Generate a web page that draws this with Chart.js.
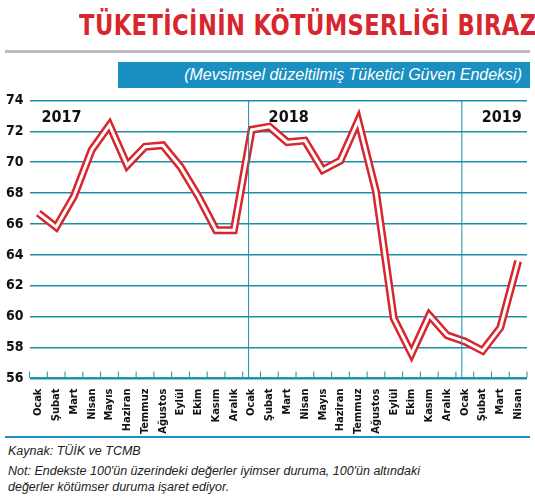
<!DOCTYPE html>
<html><head><meta charset="utf-8">
<script src="https://cdn.jsdelivr.net/npm/chart.js@4"></script>
<style>
body{margin:0;width:535px;height:503px;background:#fff;font-family:"DejaVu Sans",sans-serif;overflow:hidden;position:relative}
#t{position:absolute;left:0;width:535px;top:8px;text-align:center;white-space:nowrap}
#t span{display:inline-block;transform:scaleX(0.78);transform-origin:center;color:#d7262e;font:bold 29px "DejaVu Sans",sans-serif;letter-spacing:0.5px}
#hr{position:absolute;left:5px;right:5px;top:50px;height:3px;background:#bbb}
#s{position:absolute;left:118px;right:5px;top:62px;height:26px;background:#1a8fc1;color:#fff;font:italic 16px "Liberation Sans",sans-serif;line-height:26px;text-align:right;padding-right:8px;box-sizing:border-box}
#c{position:absolute;left:0;top:86px;width:535px;height:350px}
#hr2{position:absolute;left:5px;right:5px;top:436px;height:2px;background:#1a8fc1}
#f{position:absolute;left:8px;top:443px;font:italic 12.5px "Liberation Sans",sans-serif;color:#222;line-height:16px;width:520px}
</style></head><body>
<div id="t"><span>TÜKETİCİNİN KÖTÜMSERLİĞİ BIRAZ AZALDI</span></div>
<div id="hr"></div>
<div id="s">(Mevsimsel düzeltilmiş Tüketici Güven Endeksi)</div>
<div id="c"><canvas id="cv" width="535" height="350"></canvas></div>
<div id="hr2"></div>
<div id="f">Kaynak: TÜİK ve TCMB<div style="height:4px"></div>Not: Endekste 100'ün üzerindeki değerler iyimser duruma, 100'ün altındaki<br>değerler kötümser duruma işaret ediyor.</div>
<script>
const months=["Ocak","Şubat","Mart","Nisan","Mayıs","Haziran","Temmuz","Ağustos","Eylül","Ekim","Kasım","Aralık","Ocak","Şubat","Mart","Nisan","Mayıs","Haziran","Temmuz","Ağustos","Eylül","Ekim","Kasım","Aralık","Ocak","Şubat","Mart","Nisan"];
const values=[66.7,65.8,67.8,70.8,72.4,69.8,71.0,71.1,69.7,67.8,65.6,65.6,72.1,72.3,71.3,71.4,69.5,70.1,72.7,68.1,59.9,57.6,60.1,58.8,58.4,57.8,59.3,63.6];
const years=["2017","2018","2019"];
const yearStart=[0,12,24];
const teal="#1a8fa8";
const deco={id:'deco',afterDraw(ch){const c=ch.ctx,x=ch.scales.x,a=ch.chartArea;c.save();
c.strokeStyle=teal;c.lineWidth=1;c.font='bold 16px "DejaVu Sans Condensed","DejaVu Sans",sans-serif';c.fillStyle='#111';
years.forEach((y,i)=>{const px=i?x.getPixelForValue(yearStart[i])-3:a.left;if(i){c.beginPath();c.moveTo(px,a.top);c.lineTo(px,a.bottom);c.stroke();}c.fillText(y,px+(i?20:12),a.top+22);});
c.beginPath();c.moveTo(a.left,a.bottom-1);c.lineTo(a.right,a.bottom-1);
for(let i=0;i<=28;i++){const px=a.left+(a.right-a.left)*i/28;c.moveTo(px,a.bottom-1);c.lineTo(px,a.bottom-7);}c.stroke();c.restore();}};
new Chart(document.getElementById('cv'),{type:'line',data:{labels:months,datasets:[
{data:values,borderColor:'#fff',borderWidth:3,pointRadius:0,tension:0,borderJoinStyle:'miter',order:0},
{data:values,borderColor:'#d7262e',borderWidth:8,pointRadius:0,tension:0,borderJoinStyle:'miter',order:1}]},
options:{responsive:false,animation:false,layout:{padding:{right:8,top:4}},plugins:{legend:{display:false},tooltip:{enabled:false}},
scales:{x:{offset:true,grid:{display:false},border:{display:false},ticks:{maxRotation:90,minRotation:90,autoSkip:false,color:'#111',font:{family:'"DejaVu Sans Condensed","DejaVu Sans"',size:11,weight:'bold'},padding:2}},
y:{min:56,max:74,ticks:{stepSize:2,color:'#111',font:{family:'"DejaVu Sans Condensed","DejaVu Sans"',size:14,weight:'bold'},padding:6},border:{display:false},grid:{color:teal,lineWidth:1.5,borderDash:[3,2],drawTicks:false}}}},
plugins:[deco]});
</script></body></html>
